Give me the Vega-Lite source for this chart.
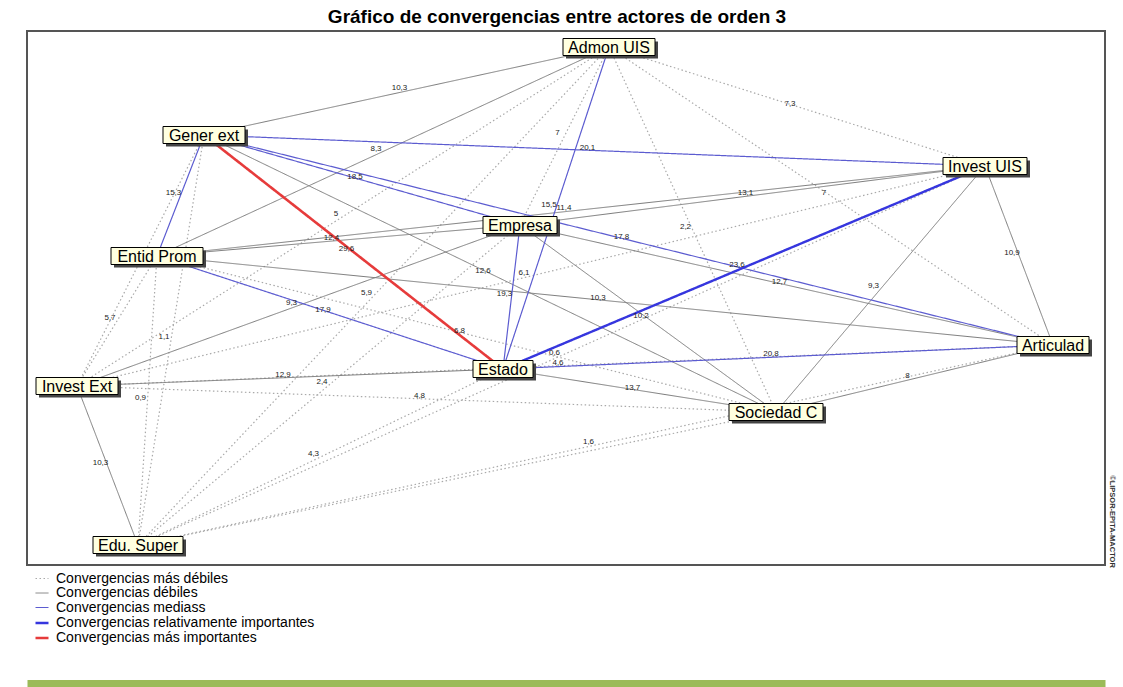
{
  "$schema": "https://vega.github.io/schema/vega-lite/v6.json",
  "width": 1078,
  "height": 534,
  "autosize": {"type": "none"},
  "padding": {"left": 27, "top": 31, "right": 18, "bottom": 122},
  "background": "white",
  "title": {
    "text": "Gráfico de convergencias entre actores de orden 3",
    "fontSize": 19,
    "fontWeight": "bold",
    "font": "Liberation Sans",
    "anchor": "middle",
    "dx": -9,
    "offset": 4,
    "color": "#000"
  },
  "config": {
    "font": "Liberation Sans",
    "view": {"stroke": "#555", "strokeWidth": 2},
    "locale": {"number": {"decimal": ",", "thousands": ".", "grouping": [3], "currency": ["", " €"]}}
  },
  "datasets": {
    "nodes": [
      {"name": "Admon UIS", "x": 582, "y": 16},
      {"name": "Gener ext", "x": 177, "y": 104},
      {"name": "Invest UIS", "x": 958, "y": 135},
      {"name": "Empresa", "x": 493, "y": 194},
      {"name": "Entid Prom", "x": 130, "y": 225},
      {"name": "Articulad", "x": 1026, "y": 314},
      {"name": "Estado", "x": 476, "y": 338},
      {"name": "Invest Ext", "x": 50, "y": 355},
      {"name": "Sociedad C", "x": 749, "y": 381},
      {"name": "Edu. Super", "x": 111, "y": 514}
    ],
    "edges": [
      {"source": "Admon UIS", "target": "Invest UIS", "value": 7.3, "level": "Convergencias más débiles"},
      {"source": "Admon UIS", "target": "Empresa", "value": 7, "level": "Convergencias más débiles"},
      {"source": "Admon UIS", "target": "Articulad", "value": 7, "level": "Convergencias más débiles"},
      {"source": "Admon UIS", "target": "Sociedad C", "value": 2.2, "level": "Convergencias más débiles"},
      {"source": "Admon UIS", "target": "Invest Ext", "value": 5, "level": "Convergencias más débiles"},
      {"source": "Admon UIS", "target": "Edu. Super", "value": 5.9, "level": "Convergencias más débiles"},
      {"source": "Gener ext", "target": "Invest Ext", "value": null, "level": "Convergencias más débiles"},
      {"source": "Gener ext", "target": "Edu. Super", "value": 1.1, "level": "Convergencias más débiles"},
      {"source": "Invest UIS", "target": "Invest Ext", "value": 6.1, "level": "Convergencias más débiles"},
      {"source": "Invest UIS", "target": "Edu. Super", "value": 0.6, "level": "Convergencias más débiles"},
      {"source": "Empresa", "target": "Edu. Super", "value": 2.4, "level": "Convergencias más débiles"},
      {"source": "Entid Prom", "target": "Invest Ext", "value": 5.7, "level": "Convergencias más débiles"},
      {"source": "Entid Prom", "target": "Sociedad C", "value": 6.8, "level": "Convergencias más débiles"},
      {"source": "Entid Prom", "target": "Edu. Super", "value": 0.9, "level": "Convergencias más débiles"},
      {"source": "Articulad", "target": "Invest Ext", "value": 4.6, "level": "Convergencias más débiles"},
      {"source": "Articulad", "target": "Edu. Super", "value": 1.6, "level": "Convergencias más débiles"},
      {"source": "Estado", "target": "Edu. Super", "value": 4.3, "level": "Convergencias más débiles"},
      {"source": "Invest Ext", "target": "Sociedad C", "value": 4.8, "level": "Convergencias más débiles"},
      {"source": "Sociedad C", "target": "Edu. Super", "value": null, "level": "Convergencias más débiles"},
      {"source": "Admon UIS", "target": "Gener ext", "value": 10.3, "level": "Convergencias débiles"},
      {"source": "Admon UIS", "target": "Entid Prom", "value": 8.3, "level": "Convergencias débiles"},
      {"source": "Invest UIS", "target": "Empresa", "value": 13.1, "level": "Convergencias débiles"},
      {"source": "Invest UIS", "target": "Entid Prom", "value": 11.4, "level": "Convergencias débiles"},
      {"source": "Invest UIS", "target": "Articulad", "value": 10.9, "level": "Convergencias débiles"},
      {"source": "Invest UIS", "target": "Sociedad C", "value": 9.3, "level": "Convergencias débiles"},
      {"source": "Empresa", "target": "Entid Prom", "value": 12.4, "level": "Convergencias débiles"},
      {"source": "Empresa", "target": "Articulad", "value": 12.7, "level": "Convergencias débiles"},
      {"source": "Empresa", "target": "Invest Ext", "value": 9.3, "level": "Convergencias débiles"},
      {"source": "Empresa", "target": "Sociedad C", "value": 10.2, "level": "Convergencias débiles"},
      {"source": "Entid Prom", "target": "Articulad", "value": 10.3, "level": "Convergencias débiles"},
      {"source": "Articulad", "target": "Sociedad C", "value": 8, "level": "Convergencias débiles"},
      {"source": "Estado", "target": "Invest Ext", "value": 12.9, "level": "Convergencias débiles"},
      {"source": "Estado", "target": "Sociedad C", "value": 13.7, "level": "Convergencias débiles"},
      {"source": "Invest Ext", "target": "Edu. Super", "value": 10.3, "level": "Convergencias débiles"},
      {"source": "Gener ext", "target": "Sociedad C", "value": 12.6, "level": "Convergencias débiles"},
      {"source": "Gener ext", "target": "Invest UIS", "value": 20.1, "level": "Convergencias mediass"},
      {"source": "Gener ext", "target": "Empresa", "value": 18.5, "level": "Convergencias mediass"},
      {"source": "Gener ext", "target": "Entid Prom", "value": 15.3, "level": "Convergencias mediass"},
      {"source": "Gener ext", "target": "Articulad", "value": 17.8, "level": "Convergencias mediass"},
      {"source": "Admon UIS", "target": "Estado", "value": 15.5, "level": "Convergencias mediass"},
      {"source": "Empresa", "target": "Estado", "value": 19.3, "level": "Convergencias mediass"},
      {"source": "Entid Prom", "target": "Estado", "value": 17.9, "level": "Convergencias mediass"},
      {"source": "Articulad", "target": "Estado", "value": 20.8, "level": "Convergencias mediass"},
      {"source": "Invest UIS", "target": "Estado", "value": 23.6, "level": "Convergencias relativamente importantes"},
      {"source": "Gener ext", "target": "Estado", "value": 29.6, "level": "Convergencias más importantes"}
    ]
  },
  "layer": [
    {
      "data": {"name": "edges"},
      "transform": [
        {"lookup": "source", "from": {"data": {"name": "nodes"}, "key": "name", "fields": ["x", "y"]}, "as": ["x1", "y1"]},
        {"lookup": "target", "from": {"data": {"name": "nodes"}, "key": "name", "fields": ["x", "y"]}, "as": ["x2", "y2"]}
      ],
      "mark": {"type": "rule", "strokeCap": "butt"},
      "encoding": {
        "x": {"field": "x1", "type": "quantitative", "scale": {"domain": [0, 1078], "nice": false, "zero": false},
          "axis": {"orient": "bottom", "offset": 118, "domain": true, "domainColor": "#9bbb59", "domainWidth": 7, "ticks": false, "labels": false, "grid": false, "title": null}},
        "y": {"field": "y1", "type": "quantitative", "scale": {"domain": [0, 534], "nice": false, "zero": false, "reverse": true},
          "axis": {"orient": "right", "domain": false, "ticks": false, "labels": false, "grid": false, "title": "©LIPSOR-EPITA-MACTOR", "titleAngle": 90, "titleFontSize": 7.5, "titleFontWeight": "bold", "titleColor": "#333", "titleX": 6, "titleY": 490, "titleAlign": "center", "titleBaseline": "middle", "titlePadding": 0}},
        "x2": {"field": "x2"},
        "y2": {"field": "y2"},
        "color": {"field": "level", "type": "ordinal",
          "scale": {"type": "ordinal", "domain": ["Convergencias más débiles", "Convergencias débiles", "Convergencias mediass", "Convergencias relativamente importantes", "Convergencias más importantes"],
            "range": ["#a9a9a9", "#7c7c7c", "#5c5cd0", "#3636de", "#e63b3b"]},
          "legend": {"title": null, "orient": "none", "legendX": 7, "legendY": 540, "symbolType": "stroke", "symbolSize": 169, "labelFontSize": 14, "labelFont": "Liberation Sans", "labelColor": "#000", "labelLimit": 600, "rowPadding": 0, "padding": 0, "labelOffset": 6}},
        "strokeDash": {"field": "level", "type": "ordinal",
          "scale": {"type": "ordinal", "domain": ["Convergencias más débiles", "Convergencias débiles", "Convergencias mediass", "Convergencias relativamente importantes", "Convergencias más importantes"],
            "range": [[1.5, 2.5], [1, 0], [1, 0], [1, 0], [1, 0]]},
          "legend": {"title": null, "orient": "none", "legendX": 7, "legendY": 540, "symbolType": "stroke", "symbolSize": 169, "labelFontSize": 14, "labelFont": "Liberation Sans", "labelColor": "#000", "labelLimit": 600, "rowPadding": 0, "padding": 0, "labelOffset": 6}},
        "strokeWidth": {"field": "level", "type": "ordinal",
          "scale": {"type": "ordinal", "domain": ["Convergencias más débiles", "Convergencias débiles", "Convergencias mediass", "Convergencias relativamente importantes", "Convergencias más importantes"],
            "range": [1.2, 1, 1.2, 2.4, 2.6]},
          "legend": {"title": null, "orient": "none", "legendX": 7, "legendY": 540, "symbolType": "stroke", "symbolSize": 169, "labelFontSize": 14, "labelFont": "Liberation Sans", "labelColor": "#000", "labelLimit": 600, "rowPadding": 0, "padding": 0, "labelOffset": 6}}
      }
    },
    {
      "data": {"name": "edges"},
      "transform": [
        {"filter": "isValid(datum.value)"},
        {"lookup": "source", "from": {"data": {"name": "nodes"}, "key": "name", "fields": ["x", "y"]}, "as": ["x1", "y1"]},
        {"lookup": "target", "from": {"data": {"name": "nodes"}, "key": "name", "fields": ["x", "y"]}, "as": ["x2", "y2"]},
        {"calculate": "(datum.x1 + datum.x2) / 2", "as": "mx"},
        {"calculate": "(datum.y1 + datum.y2) / 2", "as": "my"}
      ],
      "mark": {"type": "text", "fontSize": 8, "color": "#222", "dx": -7, "dy": -3, "font": "Liberation Sans"},
      "encoding": {
        "x": {"field": "mx", "type": "quantitative"},
        "y": {"field": "my", "type": "quantitative"},
        "text": {"field": "value", "type": "quantitative", "format": "~g"}
      }
    },
    {
      "data": {"name": "nodes"},
      "mark": {"type": "point", "filled": true, "fill": "#444", "stroke": null, "size": 4, "opacity": 1},
      "encoding": {
        "x": {"field": "x", "type": "quantitative"},
        "y": {"field": "y", "type": "quantitative"},
        "shape": {"field": "name", "type": "nominal", "legend": null,
          "scale": {"domain": ["Admon UIS", "Gener ext", "Invest UIS", "Empresa", "Entid Prom", "Articulad", "Estado", "Invest Ext", "Sociedad C", "Edu. Super"],
            "range": ["M-43,-5.5H49V11.5H-43Z", "M-38,-5.5H44V11.5H-38Z", "M-39,-5.5H45V11.5H-39Z", "M-34,-5.5H40V11.5H-34Z", "M-43,-5.5H49V11.5H-43Z", "M-33,-5.5H39V11.5H-33Z", "M-27,-5.5H33V11.5H-27Z", "M-38,-5.5H44V11.5H-38Z", "M-44,-5.5H50V11.5H-44Z", "M-42,-5.5H48V11.5H-42Z"]}}
      }
    },
    {
      "data": {"name": "nodes"},
      "mark": {"type": "point", "filled": true, "fill": "#ffffe0", "stroke": "#000", "strokeWidth": 1, "size": 4, "opacity": 1},
      "encoding": {
        "x": {"field": "x", "type": "quantitative"},
        "y": {"field": "y", "type": "quantitative"},
        "shape": {"field": "name", "type": "nominal", "legend": null,
          "scale": {"domain": ["Admon UIS", "Gener ext", "Invest UIS", "Empresa", "Entid Prom", "Articulad", "Estado", "Invest Ext", "Sociedad C", "Edu. Super"],
            "range": ["M-46,-8.5H46V8.5H-46Z", "M-41,-8.5H41V8.5H-41Z", "M-42,-8.5H42V8.5H-42Z", "M-37,-8.5H37V8.5H-37Z", "M-46,-8.5H46V8.5H-46Z", "M-36,-8.5H36V8.5H-36Z", "M-30,-8.5H30V8.5H-30Z", "M-41,-8.5H41V8.5H-41Z", "M-47,-8.5H47V8.5H-47Z", "M-45,-8.5H45V8.5H-45Z"]}}
      }
    },
    {
      "data": {"name": "nodes"},
      "mark": {"type": "text", "fontSize": 16, "font": "Liberation Sans", "color": "#000", "align": "center", "baseline": "middle", "dy": 1},
      "encoding": {
        "x": {"field": "x", "type": "quantitative"},
        "y": {"field": "y", "type": "quantitative"},
        "text": {"field": "name", "type": "nominal"}
      }
    }
  ],
  "resolve": {"scale": {"shape": "independent"}, "legend": {"shape": "independent"}}
}
